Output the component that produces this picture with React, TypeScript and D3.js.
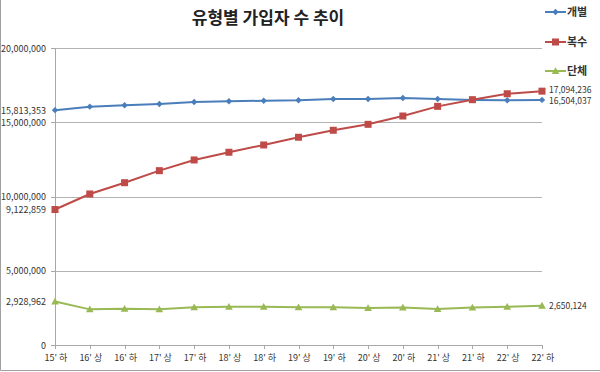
import React, { useEffect, useRef } from 'react';
import * as d3 from 'd3';

const categories = [
  "15' 하", "16' 상", "16' 하", "17' 상", "17' 하", "18' 상", "18' 하", "19' 상",
  "19' 하", "20' 상", "20' 하", "21' 상", "21' 하", "22' 상", "22' 하",
];

const individual = [
  15813353, 16050000, 16140000, 16230000, 16360000, 16410000, 16450000, 16480000,
  16570000, 16570000, 16630000, 16570000, 16500000, 16480000, 16504037,
];

const multiple = [
  9122859, 10170000, 10930000, 11740000, 12460000, 12980000, 13470000, 13990000,
  14460000, 14860000, 15420000, 16070000, 16520000, 16920000, 17094236,
];

const group = [
  2928962, 2400000, 2440000, 2400000, 2540000, 2580000, 2580000, 2540000,
  2540000, 2490000, 2520000, 2420000, 2520000, 2570000, 2650124,
];

const yTicks = [0, 5000000, 10000000, 15000000, 20000000];

const seriesNames = ['개별', '복수', '단체'];
const colors = ['#4a7ebb', '#be4b48', '#98b954'];

const FONT = "'Noto Sans CJK KR', 'Noto Sans', sans-serif";

const App = () => {
  const svgRef = useRef<SVGSVGElement>(null);

  useEffect(() => {
    const W = 600, H = 372;
    const left = 55, right = 542, top = 48, bottom = 345;

    const svg = d3.select(svgRef.current);
    svg.selectAll('*').remove();
    svg.attr('width', W).attr('height', H);

    // outer frame
    svg.append('path')
      .attr('d', `M0.5,0 V370.5 H${W}`)
      .attr('fill', 'none')
      .attr('stroke', '#a0a0a0');

    const x = d3.scalePoint<string>().domain(categories).range([left, right]);
    const y = d3.scaleLinear().domain([0, 20000000]).range([bottom, top]);
    const fmt = d3.format(',');

    // gridlines
    svg.append('g')
      .selectAll('line')
      .data(yTicks.filter(d => d > 0))
      .enter().append('line')
      .attr('x1', left).attr('x2', right)
      .attr('y1', d => Math.round(y(d)) + 0.5)
      .attr('y2', d => Math.round(y(d)) + 0.5)
      .attr('stroke', '#b4b4b4');

    // y axis
    svg.append('line')
      .attr('x1', left + 0.5).attr('x2', left + 0.5)
      .attr('y1', top).attr('y2', bottom)
      .attr('stroke', '#a8a8a8');
    svg.append('g')
      .selectAll('line')
      .data(yTicks)
      .enter().append('line')
      .attr('x1', left - 4).attr('x2', left)
      .attr('y1', d => Math.round(y(d)) + 0.5)
      .attr('y2', d => Math.round(y(d)) + 0.5)
      .attr('stroke', '#a8a8a8');
    svg.append('g')
      .selectAll('text')
      .data(yTicks)
      .enter().append('text')
      .attr('x', 46)
      .attr('y', d => y(d) + 3.5)
      .attr('text-anchor', 'end')
      .attr('font-family', FONT)
      .attr('font-size', 9)
      .attr('fill', '#333')
      .text(d => fmt(d));

    // x axis
    svg.append('line')
      .attr('x1', left).attr('x2', right + 1)
      .attr('y1', bottom + 0.5).attr('y2', bottom + 0.5)
      .attr('stroke', '#a8a8a8');
    svg.append('g')
      .selectAll('line')
      .data(categories)
      .enter().append('line')
      .attr('x1', d => Math.round(x(d)!) + 0.5)
      .attr('x2', d => Math.round(x(d)!) + 0.5)
      .attr('y1', bottom).attr('y2', bottom + 4)
      .attr('stroke', '#a8a8a8');
    svg.append('g')
      .selectAll('text')
      .data(categories)
      .enter().append('text')
      .attr('x', d => x(d)! + 1)
      .attr('y', 361)
      .attr('text-anchor', 'middle')
      .attr('font-family', FONT)
      .attr('font-size', 9)
      .attr('fill', '#333')
      .text(d => d);

    // series
    const allSeries = [individual, multiple, group];
    const line = d3.line<number>()
      .x((_, i) => x(categories[i])!)
      .y(d => y(d));

    const marker = (g: any, k: number, cx: number, cy: number) => {
      if (k === 0) {
        g.append('path')
          .attr('d', `M${cx},${cy - 3.2} L${cx + 3.2},${cy} L${cx},${cy + 3.2} L${cx - 3.2},${cy} Z`)
          .attr('fill', colors[0]);
      } else if (k === 1) {
        g.append('rect')
          .attr('x', cx - 3.5).attr('y', cy - 3.5)
          .attr('width', 7).attr('height', 7)
          .attr('fill', colors[1]);
      } else {
        g.append('path')
          .attr('d', `M${cx},${cy - 3.8} L${cx + 3.8},${cy + 3} L${cx - 3.8},${cy + 3} Z`)
          .attr('fill', colors[2]);
      }
    };

    allSeries.forEach((vals, k) => {
      const g = svg.append('g');
      g.append('path')
        .datum(vals)
        .attr('d', line)
        .attr('fill', 'none')
        .attr('stroke', colors[k])
        .attr('stroke-width', 2);
      vals.forEach((v, i) => marker(g, k, x(categories[i])!, y(v)));
    });

    // first / last value labels (nudged so the close end labels don't collide)
    const endNudge = [1.5, -1.5, 0];
    allSeries.forEach((vals, k) => {
      svg.append('text')
        .attr('x', 46)
        .attr('y', y(vals[0]) + 3.5)
        .attr('text-anchor', 'end')
        .attr('font-family', FONT)
        .attr('font-size', 9)
        .attr('fill', '#333')
        .text(fmt(vals[0]));
      const last = vals[vals.length - 1];
      svg.append('text')
        .attr('x', 549)
        .attr('y', y(last) + 3 + endNudge[k])
        .attr('font-family', FONT)
        .attr('font-size', 8.5)
        .attr('fill', '#333')
        .text(fmt(last));
    });

    // title
    svg.append('text')
      .attr('x', 268)
      .attr('y', 24)
      .attr('text-anchor', 'middle')
      .attr('font-family', FONT)
      .attr('font-size', 17)
      .attr('font-weight', 'bold')
      .attr('fill', '#222')
      .text('유형별 가입자 수 추이');

    // legend
    const legendY = [12, 42, 71];
    seriesNames.forEach((name, k) => {
      const g = svg.append('g');
      const ly = legendY[k];
      g.append('line')
        .attr('x1', 545).attr('x2', 566)
        .attr('y1', ly).attr('y2', ly)
        .attr('stroke', colors[k])
        .attr('stroke-width', 2);
      marker(g, k, 555.5, ly);
      g.append('text')
        .attr('x', 567)
        .attr('y', ly + 4)
        .attr('font-family', FONT)
        .attr('font-size', 11)
        .attr('font-weight', 'bold')
        .attr('fill', '#333')
        .text(name);
    });
  }, []);

  return <svg ref={svgRef} style={{ position: 'absolute', left: 0, top: 0 }}></svg>;
};

export default App;
